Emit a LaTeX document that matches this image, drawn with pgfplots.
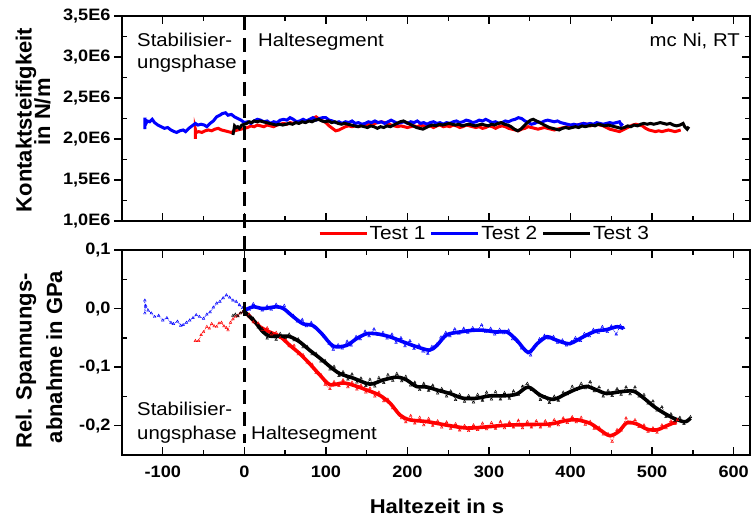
\documentclass[border=0pt]{standalone}
\usepackage{fontspec}
\setmainfont[FakeStretch=1.1]{Liberation Sans}
\newfontfamily\rotfont{Liberation Sans}
\usepackage{pgfplots}
\pgfplotsset{compat=1.18}
\begin{document}
\begin{tikzpicture}
\pgfplotsset{
 base/.style={scale only axis, width=628bp, height=205bp, xmin=-150, xmax=620,
   axis line style={line width=1.4bp},
   tick style={black, line width=1.4bp}, major tick length=8bp, minor tick length=5bp,
   tick label style={font=\fontsize{16.5bp}{19bp}\selectfont\bfseries}},
 mainax/.style={base, tick align=inside, xtick={-100,0,...,600}, minor xtick={-50,50,...,550},
   xtick pos=both, ytick pos=right, yticklabels={}},
 leftax/.style={base, axis x line=none, axis y line*=left, tick align=outside,
   minor tick style={xshift=5bp}, xtick=\empty},
 noisy/.style={line width=0.7bp, densely dotted, mark=triangle, mark size=1.5bp, mark options={line width=0.45bp, solid}},
 fit/.style={line width=3.6bp, smooth},
 stiff/.style={line width=3bp},
}
% ---------------- top panel ----------------
\begin{axis}[mainax, at={(122bp,297bp)}, anchor=south west,
  ymin=1, ymax=3.5, ytick={1,1.5,2,2.5,3,3.5}, minor ytick={1.25,1.75,2.25,2.75,3.25},
  xticklabels={}]
\addplot[red, stiff] coordinates {(-60,2.00)(-60,2.12)(-59,2.08)(-56,2.09)(-52,2.08)(-48,2.10)(-44,2.11)(-40,2.10)(-36,2.12)(-32,2.13)(-28,2.11)(-24,2.10)(-20,2.09)(-16,2.08)(-12,2.10)(-8,2.11)(-4,2.12)(0,2.13)(4,2.14)(8,2.16)(12,2.15)(16,2.17)(20,2.16)(24,2.15)(28,2.17)(32,2.16)(36,2.15)(40,2.17)(44,2.18)(48,2.19)(52,2.18)(56,2.20)(60,2.19)(64,2.21)(68,2.20)(72,2.22)(76,2.21)(80,2.23)(84,2.25)(88,2.27)(92,2.24)(96,2.22)(100,2.20)(104,2.16)(108,2.13)(112,2.10)(116,2.11)(120,2.13)(124,2.15)(128,2.16)(132,2.15)(136,2.16)(140,2.15)(144,2.17)(148,2.16)(152,2.18)(156,2.17)(160,2.19)(164,2.20)(168,2.21)(172,2.20)(176,2.19)(180,2.17)(184,2.16)(188,2.15)(192,2.16)(196,2.15)(200,2.14)(204,2.15)(208,2.16)(212,2.15)(216,2.17)(220,2.16)(224,2.15)(228,2.16)(232,2.14)(236,2.16)(240,2.17)(244,2.15)(248,2.16)(252,2.15)(256,2.17)(260,2.16)(264,2.14)(268,2.15)(272,2.17)(276,2.16)(280,2.15)(284,2.14)(288,2.15)(292,2.13)(296,2.14)(300,2.16)(304,2.15)(308,2.13)(312,2.15)(316,2.16)(320,2.15)(324,2.13)(328,2.12)(332,2.11)(336,2.10)(340,2.12)(344,2.13)(348,2.15)(352,2.14)(356,2.13)(360,2.12)(364,2.13)(368,2.14)(372,2.13)(376,2.12)(380,2.11)(384,2.12)(388,2.13)(392,2.14)(396,2.15)(400,2.14)(404,2.15)(408,2.17)(412,2.18)(416,2.19)(420,2.18)(424,2.16)(428,2.17)(432,2.18)(436,2.17)(440,2.16)(444,2.14)(448,2.12)(452,2.11)(456,2.10)(460,2.09)(464,2.11)(468,2.13)(472,2.15)(476,2.17)(480,2.18)(484,2.17)(488,2.16)(492,2.13)(496,2.11)(500,2.10)(504,2.09)(508,2.10)(512,2.09)(516,2.10)(520,2.11)(524,2.10)(528,2.09)(532,2.10)(535,2.11)};
\addplot[blue, stiff] coordinates {(-122,2.12)(-122,2.26)(-121,2.18)(-119,2.22)(-116,2.21)(-113,2.24)(-110,2.20)(-106,2.17)(-102,2.15)(-98,2.13)(-94,2.14)(-90,2.11)(-86,2.09)(-83,2.08)(-79,2.10)(-75,2.11)(-72,2.09)(-68,2.13)(-64,2.16)(-60,2.19)(-57,2.17)(-53,2.18)(-49,2.17)(-46,2.15)(-42,2.19)(-38,2.22)(-34,2.27)(-30,2.29)(-27,2.31)(-23,2.32)(-20,2.29)(-16,2.30)(-12,2.27)(-8,2.25)(-4,2.23)(0,2.20)(4,2.21)(8,2.19)(12,2.22)(16,2.24)(20,2.23)(24,2.21)(28,2.22)(32,2.19)(36,2.21)(40,2.20)(44,2.23)(48,2.24)(52,2.23)(56,2.26)(60,2.24)(64,2.21)(68,2.22)(72,2.24)(76,2.22)(80,2.24)(84,2.26)(88,2.23)(92,2.25)(96,2.26)(100,2.26)(104,2.23)(108,2.22)(112,2.20)(116,2.21)(120,2.19)(124,2.21)(128,2.20)(132,2.22)(136,2.19)(140,2.20)(144,2.18)(148,2.19)(152,2.21)(156,2.20)(160,2.22)(164,2.20)(168,2.21)(172,2.19)(176,2.21)(180,2.23)(184,2.21)(188,2.19)(192,2.20)(196,2.21)(200,2.19)(204,2.21)(208,2.20)(212,2.22)(216,2.19)(220,2.20)(224,2.18)(228,2.20)(232,2.21)(236,2.19)(240,2.20)(244,2.18)(248,2.20)(252,2.19)(256,2.21)(260,2.22)(264,2.20)(268,2.21)(272,2.23)(276,2.22)(280,2.20)(284,2.21)(288,2.23)(292,2.22)(296,2.24)(300,2.22)(304,2.20)(308,2.21)(312,2.19)(316,2.20)(320,2.22)(324,2.21)(328,2.23)(332,2.24)(336,2.26)(340,2.25)(344,2.22)(348,2.20)(352,2.18)(356,2.19)(360,2.21)(364,2.20)(368,2.22)(372,2.23)(376,2.22)(380,2.21)(384,2.22)(388,2.20)(392,2.19)(396,2.18)(400,2.17)(404,2.18)(408,2.17)(412,2.18)(416,2.19)(420,2.18)(424,2.19)(428,2.18)(432,2.20)(436,2.19)(440,2.18)(444,2.19)(448,2.20)(452,2.19)(456,2.20)(460,2.21)(462,2.17)(464,2.19)};
\addplot[black, stiff] coordinates {(-14,2.05)(-13,2.10)(-12,2.16)(-10,2.14)(-8,2.15)(-6,2.13)(-3,2.17)(0,2.18)(3,2.19)(6,2.21)(9,2.20)(12,2.22)(16,2.21)(19,2.22)(23,2.21)(27,2.20)(31,2.19)(35,2.18)(39,2.17)(43,2.18)(47,2.17)(51,2.18)(55,2.19)(59,2.18)(63,2.20)(67,2.19)(71,2.21)(75,2.20)(79,2.22)(83,2.21)(87,2.23)(91,2.24)(95,2.22)(99,2.21)(103,2.22)(107,2.20)(111,2.21)(115,2.19)(119,2.18)(123,2.19)(127,2.18)(131,2.17)(135,2.16)(139,2.15)(143,2.16)(147,2.15)(151,2.14)(155,2.16)(159,2.15)(163,2.13)(167,2.15)(171,2.14)(175,2.16)(179,2.15)(183,2.17)(187,2.19)(191,2.21)(195,2.22)(199,2.20)(203,2.18)(207,2.16)(211,2.14)(215,2.13)(219,2.12)(223,2.14)(227,2.16)(231,2.17)(235,2.16)(239,2.18)(243,2.17)(247,2.18)(251,2.19)(255,2.18)(259,2.17)(263,2.18)(267,2.16)(271,2.17)(275,2.18)(279,2.17)(283,2.16)(287,2.17)(291,2.18)(295,2.17)(299,2.16)(303,2.18)(307,2.17)(311,2.19)(315,2.20)(319,2.18)(323,2.17)(327,2.15)(331,2.12)(335,2.10)(339,2.12)(343,2.16)(347,2.20)(351,2.23)(354,2.24)(358,2.22)(362,2.20)(366,2.18)(370,2.16)(374,2.14)(378,2.13)(382,2.12)(386,2.11)(390,2.13)(394,2.14)(398,2.13)(402,2.14)(406,2.15)(410,2.14)(414,2.16)(418,2.15)(422,2.16)(426,2.17)(430,2.16)(434,2.18)(438,2.17)(442,2.16)(446,2.17)(450,2.16)(454,2.15)(458,2.14)(462,2.13)(466,2.14)(470,2.16)(474,2.15)(478,2.17)(482,2.16)(486,2.18)(490,2.19)(494,2.18)(498,2.19)(502,2.18)(506,2.19)(510,2.20)(514,2.19)(518,2.18)(522,2.19)(526,2.17)(530,2.16)(534,2.17)(538,2.19)(540,2.15)(543,2.12)(545,2.15)};
\coordinate (dtop) at (axis cs:0,3.5);
\end{axis}
\begin{axis}[leftax, at={(122bp,297bp)}, anchor=south west,
  ymin=1, ymax=3.5, ytick={1,1.5,2,2.5,3,3.5}, minor ytick={1.25,1.75,2.25,2.75,3.25},
  yticklabels={{1,0E6},{1,5E6},{2,0E6},{2,5E6},{3,0E6},{3,5E6}}]
\end{axis}
% ---------------- bottom panel ----------------
\begin{axis}[mainax, at={(122bp,63bp)}, anchor=south west,
  ymin=-0.25, ymax=0.1, ytick={-0.2,-0.1,0,0.1}, minor ytick={-0.15,-0.05,0.05},
  xticklabels={-100,0,100,200,300,400,500,600}, xticklabel style={yshift=-7bp},
  legend columns=3,
  legend image code/.code={\draw[#1] (0bp,0bp) -- (47bp,0bp);},
  legend style={at={(0.312,1.080)}, anchor=west, draw=none, fill=none, inner sep=0pt,
    font=\fontsize{19bp}{22bp}\selectfont, nodes={inner sep=1.5bp},
    /tikz/every even column/.append style={column sep=3bp}}]
\addplot[red, noisy, forget plot] coordinates {(-60,-0.055)(-56,-0.055)(-53,-0.045)(-50,-0.040)(-46,-0.031)(-43,-0.034)(-40,-0.026)(-37,-0.030)(-34,-0.031)(-31,-0.025)(-28,-0.024)(-25,-0.030)(-22,-0.033)(-20,-0.037)(-17,-0.024)(-14,-0.018)(-11,-0.014)(-8,-0.012)(-5,-0.008)(-2,-0.006)(0,-0.003)(6,-0.010)(11,-0.023)(17,-0.025)(22,-0.036)(28,-0.033)(33,-0.044)(39,-0.041)(44,-0.050)(50,-0.052)(55,-0.064)(61,-0.063)(66,-0.078)(72,-0.079)(77,-0.092)(83,-0.095)(88,-0.110)(94,-0.113)(99,-0.130)(105,-0.137)(110,-0.125)(116,-0.132)(121,-0.122)(127,-0.134)(132,-0.126)(138,-0.138)(143,-0.131)(149,-0.143)(154,-0.136)(160,-0.150)(165,-0.143)(171,-0.158)(176,-0.155)(182,-0.170)(187,-0.175)(193,-0.187)(198,-0.194)(204,-0.183)(209,-0.196)(215,-0.186)(220,-0.199)(226,-0.188)(231,-0.200)(237,-0.192)(242,-0.203)(248,-0.194)(253,-0.205)(259,-0.197)(264,-0.208)(270,-0.200)(275,-0.209)(281,-0.199)(286,-0.207)(292,-0.196)(297,-0.206)(303,-0.195)(308,-0.205)(314,-0.193)(319,-0.204)(325,-0.194)(330,-0.203)(336,-0.191)(341,-0.204)(347,-0.193)(352,-0.203)(358,-0.192)(363,-0.203)(369,-0.192)(374,-0.201)(380,-0.190)(385,-0.199)(391,-0.187)(396,-0.195)(402,-0.185)(407,-0.194)(413,-0.186)(418,-0.198)(424,-0.193)(429,-0.205)(435,-0.203)(440,-0.215)(446,-0.214)(451,-0.227)(457,-0.207)(462,-0.208)(468,-0.187)(473,-0.196)(479,-0.190)(484,-0.202)(490,-0.199)(495,-0.210)(501,-0.204)(506,-0.212)(512,-0.199)(517,-0.204)(523,-0.192)(528,-0.197)(531,-0.190)};
\addplot[red, fit, forget plot] coordinates {(0,-0.005)(11,-0.020)(19,-0.031)(31,-0.040)(44,-0.048)(56,-0.063)(68,-0.077)(80,-0.094)(93,-0.114)(105,-0.130)(121,-0.127)(134,-0.131)(150,-0.139)(166,-0.148)(179,-0.162)(191,-0.182)(203,-0.190)(224,-0.193)(248,-0.199)(273,-0.204)(297,-0.202)(322,-0.199)(350,-0.198)(375,-0.197)(395,-0.191)(408,-0.190)(424,-0.196)(436,-0.207)(448,-0.217)(459,-0.210)(469,-0.195)(481,-0.197)(494,-0.206)(506,-0.207)(518,-0.200)(530,-0.193)};
\addplot[blue, noisy, forget plot] coordinates {(-122,0.014)(-122,-0.008)(-121,0.005)(-118,-0.003)(-114,-0.008)(-110,-0.014)(-105,-0.012)(-100,-0.020)(-95,-0.016)(-90,-0.024)(-87,-0.026)(-82,-0.022)(-78,-0.029)(-75,-0.028)(-71,-0.024)(-67,-0.020)(-63,-0.016)(-59,-0.011)(-55,-0.014)(-50,-0.017)(-46,-0.010)(-42,-0.006)(-38,0.002)(-34,0.009)(-30,0.012)(-26,0.018)(-22,0.023)(-18,0.019)(-14,0.014)(-10,0.012)(-6,0.006)(-2,0.001)(0,0.001)(6,-0.002)(11,0.008)(17,0.001)(22,-0.003)(28,0.004)(33,-0.002)(39,0.007)(44,0.001)(49,0.005)(54,-0.008)(60,-0.012)(65,-0.022)(71,-0.019)(76,-0.030)(82,-0.024)(87,-0.033)(93,-0.040)(98,-0.047)(104,-0.060)(109,-0.070)(115,-0.062)(120,-0.068)(126,-0.056)(131,-0.063)(137,-0.048)(142,-0.052)(148,-0.039)(153,-0.047)(159,-0.035)(164,-0.045)(170,-0.041)(175,-0.051)(181,-0.044)(186,-0.058)(192,-0.050)(197,-0.064)(203,-0.055)(208,-0.069)(214,-0.062)(219,-0.073)(225,-0.077)(230,-0.065)(236,-0.061)(241,-0.049)(247,-0.041)(252,-0.047)(258,-0.035)(263,-0.043)(269,-0.034)(274,-0.041)(280,-0.033)(285,-0.038)(291,-0.028)(296,-0.040)(302,-0.034)(307,-0.044)(313,-0.036)(318,-0.042)(324,-0.037)(329,-0.052)(335,-0.057)(340,-0.068)(346,-0.072)(351,-0.080)(357,-0.063)(362,-0.052)(368,-0.046)(373,-0.051)(379,-0.048)(384,-0.058)(390,-0.054)(395,-0.063)(401,-0.057)(406,-0.050)(412,-0.055)(417,-0.043)(423,-0.047)(428,-0.036)(434,-0.041)(439,-0.031)(445,-0.040)(450,-0.030)(456,-0.044)(461,-0.029)(465,-0.033)};
\addplot[blue, fit, forget plot] coordinates {(0,-0.003)(11,0.003)(23,0.0)(39,0.003)(48,0.0)(60,-0.014)(72,-0.026)(84,-0.029)(95,-0.043)(109,-0.064)(125,-0.063)(138,-0.051)(150,-0.043)(162,-0.043)(178,-0.048)(195,-0.057)(211,-0.065)(227,-0.071)(236,-0.063)(248,-0.045)(264,-0.040)(281,-0.037)(293,-0.037)(309,-0.040)(322,-0.040)(334,-0.054)(348,-0.075)(359,-0.060)(371,-0.048)(379,-0.052)(391,-0.058)(399,-0.060)(408,-0.054)(420,-0.045)(432,-0.038)(444,-0.036)(457,-0.031)(465,-0.034)};
\addplot[black, noisy, forget plot] coordinates {(-14,-0.012)(-11,-0.010)(-8,-0.013)(-5,-0.008)(-2,-0.006)(0,-0.003)(6,-0.014)(11,-0.017)(17,-0.032)(22,-0.035)(28,-0.051)(33,-0.042)(39,-0.053)(44,-0.043)(50,-0.050)(55,-0.044)(61,-0.054)(66,-0.052)(72,-0.066)(77,-0.065)(83,-0.078)(88,-0.077)(94,-0.090)(99,-0.089)(105,-0.104)(110,-0.099)(116,-0.115)(121,-0.108)(127,-0.121)(132,-0.112)(138,-0.126)(143,-0.119)(149,-0.132)(154,-0.121)(160,-0.133)(165,-0.118)(171,-0.127)(176,-0.113)(182,-0.123)(187,-0.111)(193,-0.124)(198,-0.116)(204,-0.131)(209,-0.126)(215,-0.139)(220,-0.128)(226,-0.140)(231,-0.131)(237,-0.145)(242,-0.137)(248,-0.150)(253,-0.141)(259,-0.156)(264,-0.147)(270,-0.159)(275,-0.149)(281,-0.160)(286,-0.147)(292,-0.157)(297,-0.143)(303,-0.155)(308,-0.142)(314,-0.155)(319,-0.144)(325,-0.154)(330,-0.141)(336,-0.147)(341,-0.133)(347,-0.128)(352,-0.139)(358,-0.143)(363,-0.156)(369,-0.151)(374,-0.161)(380,-0.150)(385,-0.157)(391,-0.143)(396,-0.146)(402,-0.133)(407,-0.139)(413,-0.128)(418,-0.136)(424,-0.125)(429,-0.141)(435,-0.134)(440,-0.150)(446,-0.140)(451,-0.149)(457,-0.137)(462,-0.147)(468,-0.134)(473,-0.146)(479,-0.134)(484,-0.150)(490,-0.147)(495,-0.162)(501,-0.158)(506,-0.174)(512,-0.168)(517,-0.185)(523,-0.180)(528,-0.192)(534,-0.186)(539,-0.197)(543,-0.191)(547,-0.185)};
\addplot[black, fit, forget plot] coordinates {(0,-0.005)(7,-0.014)(15,-0.026)(23,-0.040)(31,-0.047)(44,-0.047)(56,-0.048)(68,-0.057)(80,-0.071)(93,-0.085)(105,-0.099)(117,-0.111)(134,-0.119)(154,-0.129)(170,-0.122)(187,-0.117)(199,-0.122)(211,-0.133)(224,-0.134)(236,-0.139)(252,-0.145)(268,-0.153)(285,-0.153)(301,-0.149)(318,-0.149)(334,-0.146)(348,-0.134)(363,-0.148)(379,-0.155)(395,-0.145)(408,-0.137)(420,-0.133)(432,-0.139)(444,-0.145)(461,-0.142)(477,-0.141)(489,-0.152)(502,-0.167)(514,-0.178)(526,-0.187)(538,-0.193)(543,-0.192)(547,-0.187)};
\addlegendimage{red, line width=3bp}\addlegendentry{Test 1}
\addlegendimage{blue, line width=3bp}\addlegendentry{Test 2}
\addlegendimage{black, line width=3bp}\addlegendentry{Test 3}
\coordinate (dbot) at (axis cs:0,-0.23);
\end{axis}
\begin{axis}[leftax, at={(122bp,63bp)}, anchor=south west,
  ymin=-0.25, ymax=0.1, ytick={-0.2,-0.1,0,0.1}, minor ytick={-0.15,-0.05,0.05},
  yticklabels={{-0,2},{-0,1},{0,0},{0,1}}]
\end{axis}
% dashed separator
\draw[black, line width=3bp, dash pattern=on 14bp off 8bp] (dtop) -- (dbot);
% annotations
\begin{scope}[every node/.style={inner sep=0pt, font=\fontsize{18.5bp}{22bp}\selectfont}]
\node[anchor=base west] at (137bp,471bp) {Stabilisier-};
\node[anchor=base west] at (137bp,449bp) {ungsphase};
\node[anchor=base west] at (258bp,471bp) {Haltesegment};
\node[anchor=base east] at (740bp,471bp) {mc Ni, RT};
\node[anchor=base west] at (137bp,102bp) {Stabilisier-};
\node[anchor=base west] at (137bp,78bp) {ungsphase};
\node[anchor=base west] at (251bp,78bp) {Haltesegment};
\end{scope}
\begin{scope}[every node/.style={inner sep=0pt, rotate=90, anchor=base, font=\rotfont\bfseries\fontsize{22bp}{26bp}\selectfont}]
\node at (31.5bp,398bp) {Kontaktsteifigkeit};
\node at (50bp,406bp) {in N/m};
\node at (31.7bp,157bp) {Rel. Spannungs-};
\node at (62bp,161bp) {abnahme in GPa};
\end{scope}
\node[inner sep=0pt, anchor=base, font=\bfseries\fontsize{20bp}{24bp}\selectfont] at (437bp,5bp) {Haltezeit in s};
\pgfresetboundingbox
\path[use as bounding box] (0,0) rectangle (751bp,518bp);
\end{tikzpicture}
\end{document}
